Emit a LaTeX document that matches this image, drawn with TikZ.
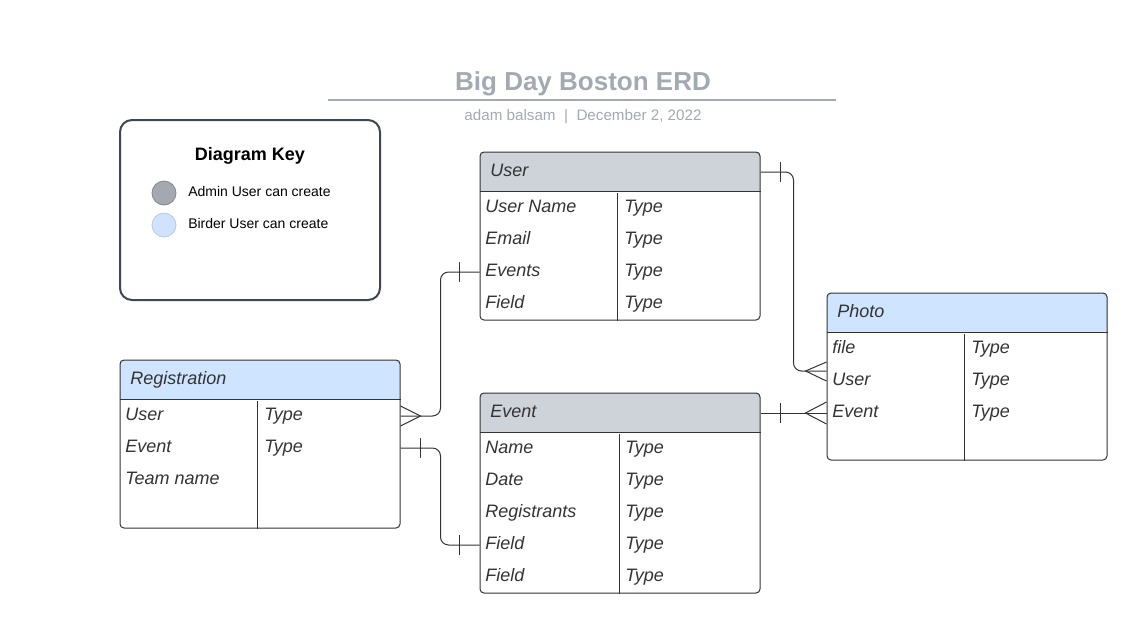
\documentclass[tikz,border=0pt]{standalone}
\usepackage{fontspec}
\setmainfont{Liberation Sans}
\usetikzlibrary{calc,backgrounds}

\definecolor{ink}{HTML}{333333}
\definecolor{hdrgray}{HTML}{CED3DA}
\definecolor{hdrblue}{HTML}{CFE4FF}
\definecolor{dimgray}{HTML}{A3A9B3}
\definecolor{keyline}{HTML}{3E4652}
\definecolor{admgray}{HTML}{A4A9B1}
\definecolor{brdblue}{HTML}{CFE2FF}

\begin{document}
\begin{tikzpicture}[x=0.75pt, y=-0.75pt,
                    every node/.style={font=\itshape\fontsize{13.5}{16}\selectfont, text=ink, inner sep=0pt},
                    entity/.style={draw=ink, line width=0.75pt, rounded corners=3pt, minimum width=210pt},
                    field/.style={anchor=west, text height=9pt, text depth=3pt},
                    sep/.style={draw=ink, line width=0.75pt},
                    conn/.style={draw=ink, line width=0.75pt},
                    keytext/.style={anchor=base west, font=\upshape\fontsize{10.5}{12}\selectfont, text=black},
                    keydot/.style={circle, minimum size=18pt, line width=0.6pt}]

    \useasboundingbox (0,0) rectangle (1147,633);

    % Title block
    \node[anchor=base, font=\bfseries\upshape\fontsize{19.5}{22}\selectfont, text=dimgray] (ttl) at (583,90) {Big Day Boston ERD};
    \draw[dimgray, line width=1.5pt] (328,100) -- (836,100);
    \node[anchor=base, font=\upshape\fontsize{11.4}{13}\selectfont, text=dimgray] (sub) at (583,120.5) {adam balsam\ \ |\ \ December 2, 2022};

    % Diagram key
    \node[draw=keyline, line width=1.5pt, rounded corners=9pt, minimum width=195pt, minimum height=135pt] (key) at (250,210) {};
    \node[anchor=base, font=\bfseries\upshape\fontsize{13.5}{16}\selectfont, text=black] (keyTtl) at (250,160) {Diagram Key};
    \node[keydot, fill=admgray, draw=admgray!80!black] (admDot) at (164,193) {};
    \node[keydot, fill=brdblue, draw=brdblue!75!gray] (brdDot) at (164,225) {};
    \node[keytext] (admTxt) at (188,196) {Admin User can create};
    \node[keytext] (brdTxt) at (188,228) {Birder User can create};

    % Entity boxes
    \node[entity, minimum height=126pt] (user) at (620,236) {};
    \node[entity, minimum height=125.25pt] (pho) at (967,376.5) {};
    \node[entity, minimum height=126pt] (reg) at (260,444) {};
    \node[entity, minimum height=150pt] (evt) at (620,493) {};

    % Header fills
    \begin{pgfonlayer}{background}
        \begin{scope}
            \clip[rounded corners=3pt] (user.south west) rectangle (user.north east);
            \fill[hdrgray] (user.north west) rectangle ($(user.north east)+(0,40)$);
        \end{scope}
        \begin{scope}
            \clip[rounded corners=3pt] (pho.south west) rectangle (pho.north east);
            \fill[hdrblue] (pho.north west) rectangle ($(pho.north east)+(0,40)$);
        \end{scope}
        \begin{scope}
            \clip[rounded corners=3pt] (reg.south west) rectangle (reg.north east);
            \fill[hdrblue] (reg.north west) rectangle ($(reg.north east)+(0,40)$);
        \end{scope}
        \begin{scope}
            \clip[rounded corners=3pt] (evt.south west) rectangle (evt.north east);
            \fill[hdrgray] (evt.north west) rectangle ($(evt.north east)+(0,40)$);
        \end{scope}
    \end{pgfonlayer}

    % Header rules and column dividers
    \draw[sep] ($(user.north west)+(0,40)$) -- ($(user.north east)+(0,40)$);
    \draw[sep] ($(user.south west)+(138,0)$) -- ++(0,-128);
    \draw[sep] ($(pho.north west)+(0,40)$) -- ($(pho.north east)+(0,40)$);
    \draw[sep] ($(pho.south west)+(138,0)$) -- ++(0,-127);
    \draw[sep] ($(reg.north west)+(0,40)$) -- ($(reg.north east)+(0,40)$);
    \draw[sep] ($(reg.south west)+(138,0)$) -- ++(0,-128);
    \draw[sep] ($(evt.north west)+(0,40)$) -- ($(evt.north east)+(0,40)$);
    \draw[sep] ($(evt.south west)+(140,0)$) -- ++(0,-160);

    % User
    \node[field] (usrHd) at (490,172) {User};
    \node[field] (usrName) at (485,208) {User Name};
    \node[field] (usrMail) at (485,240) {Email};
    \node[field] (usrEvt) at (485,272) {Events};
    \node[field] (usrFld) at (485,304) {Field};
    \foreach \y/\n in {208/a, 240/b, 272/c, 304/d}
        \node[field] (usrT\n) at (624,\y) {Type};

    % Photo
    \node[field] (phoHd) at (837,313) {Photo};
    \node[field] (phoFile) at (832,349) {file};
    \node[field] (phoUsr) at (832,381) {User};
    \node[field] (phoEvt) at (832,413) {Event};
    \foreach \y/\n in {349/a, 381/b, 413/c}
        \node[field] (phoT\n) at (971,\y) {Type};

    % Registration
    \node[field] (regHd) at (130,380) {Registration};
    \node[field] (regUsr) at (125,416) {User};
    \node[field] (regEvt) at (125,448) {Event};
    \node[field] (regTeam) at (125,480) {Team name};
    \foreach \y/\n in {416/a, 448/b}
        \node[field] (regT\n) at (264,\y) {Type};

    % Event
    \node[field] (evtHd) at (490,413) {Event};
    \node[field] (evtName) at (485,449) {Name};
    \node[field] (evtDate) at (485,481) {Date};
    \node[field] (evtReg) at (485,513) {Registrants};
    \node[field] (evtFld) at (485,545) {Field};
    \node[field] (evtFldB) at (485,577) {Field};
    \foreach \y/\n in {449/a, 481/b, 513/c, 545/d, 577/e}
        \node[field] (evtT\n) at (625,\y) {Type};

    % Registration (many) -- User (one)
    \draw[conn, rounded corners=6pt] (reg.east |- regUsr) -- ++(40,0) |- (user.west |- usrEvt);
    \draw[conn] ($(reg.east |- regUsr)+(0,-10)$) -- ++(20,10) -- ++(-20,10);
    \draw[conn] ($(user.west |- usrEvt)+(-20,-10)$) -- ++(0,20);

    % Registration (one) -- Event (one)
    \draw[conn, rounded corners=6pt] (reg.east |- regEvt) -- ++(40,0) |- (evt.west |- evtFld);
    \draw[conn] ($(reg.east |- regEvt)+(20,-10)$) -- ++(0,20);
    \draw[conn] ($(evt.west |- evtFld)+(-20,-10)$) -- ++(0,20);

    % User (one) -- Photo (many)
    \draw[conn, rounded corners=6pt] (user.east |- usrHd) -- ++(33,0) |- ($(pho.west |- phoUsr)+(0,-10)$);
    \draw[conn] ($(pho.west |- phoUsr)+(0,-19)$) -- ++(-21,9) -- ++(21,10);
    \draw[conn] ($(user.east |- usrHd)+(20,-10)$) -- ++(0,20);

    % Event (one) -- Photo (many)
    \draw[conn] (evt.east |- phoEvt) -- (pho.west |- phoEvt);
    \draw[conn] ($(pho.west |- phoEvt)+(0,-11)$) -- ++(-21,11) -- ++(21,11);
    \draw[conn] ($(evt.east |- phoEvt)+(20,-10)$) -- ++(0,20);
\end{tikzpicture}
\end{document}
